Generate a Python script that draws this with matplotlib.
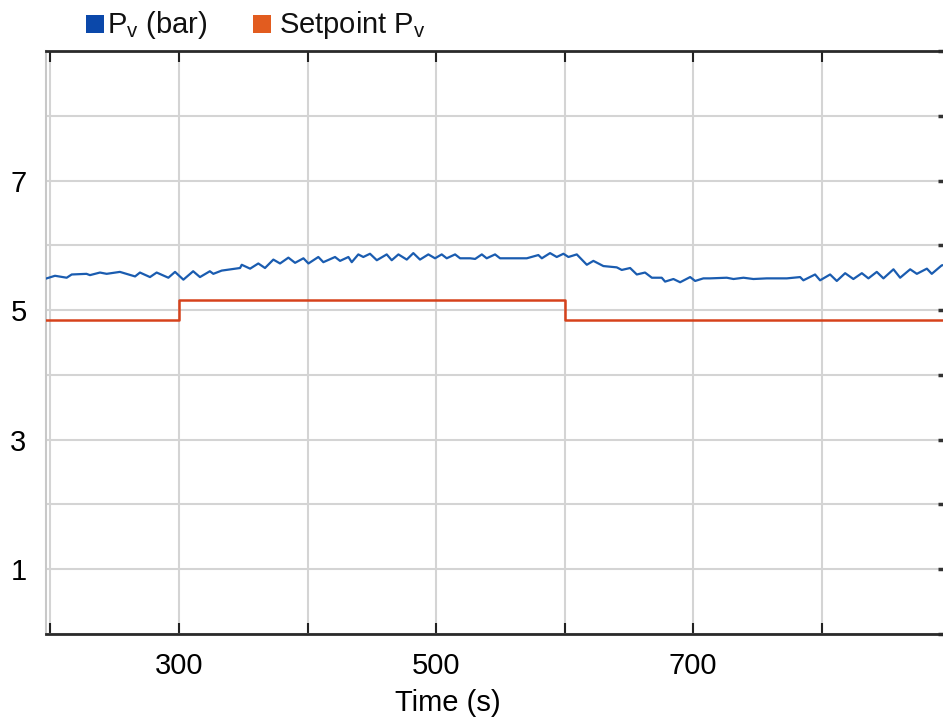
import matplotlib
matplotlib.use("Agg")
import matplotlib.pyplot as plt
from matplotlib.patches import Rectangle
from matplotlib.ticker import MultipleLocator, FuncFormatter

plt.rcParams['font.family'] = ['Liberation Sans', 'DejaVu Sans']
plt.rcParams['mathtext.fontset'] = 'custom'
plt.rcParams['mathtext.rm'] = 'Liberation Sans'

# Measured pressure Pv (bar) over time (s)
time_pv = [197.0, 203.5, 212.6, 216.5, 228.0, 230.7, 238.5, 243.7, 254.0, 265.8,
           269.6, 277.4, 282.6, 291.7, 296.9, 303.4, 311.0, 316.3, 324.0, 326.7,
           333.2, 347.5, 348.8, 355.3, 361.7, 366.9, 373.4, 378.6, 385.1, 390.3,
           396.8, 400.7, 408.4, 412.3, 421.4, 425.3, 431.8, 434.4, 439.5, 443.4,
           448.6, 453.9, 461.6, 465.5, 470.7, 477.2, 482.3, 487.5, 494.0, 499.2,
           504.4, 508.3, 514.8, 518.7, 526.5, 530.4, 535.6, 539.4, 545.9, 549.8,
           560.2, 570.6, 579.6, 582.3, 588.7, 593.9, 599.1, 603.0, 609.5, 617.3,
           622.4, 630.2, 640.6, 644.5, 651.0, 656.2, 662.6, 667.9, 675.6, 678.2,
           684.7, 689.9, 697.7, 701.6, 708.0, 713.2, 726.2, 731.4, 739.2, 746.9,
           757.3, 772.9, 783.3, 785.8, 794.9, 798.8, 806.6, 811.8, 818.3, 824.7,
           831.3, 836.4, 842.9, 848.1, 855.9, 861.1, 868.9, 874.1, 881.9, 885.7,
           893.4, 896.0]
pv = [5.49, 5.53, 5.50, 5.55, 5.56, 5.54, 5.58, 5.56, 5.59, 5.52,
      5.58, 5.51, 5.58, 5.50, 5.59, 5.47, 5.60, 5.51, 5.60, 5.56,
      5.61, 5.65, 5.70, 5.64, 5.72, 5.65, 5.78, 5.72, 5.81, 5.73,
      5.80, 5.72, 5.82, 5.74, 5.82, 5.76, 5.82, 5.74, 5.86, 5.82,
      5.87, 5.77, 5.86, 5.77, 5.86, 5.78, 5.88, 5.78, 5.86, 5.80,
      5.86, 5.80, 5.86, 5.80, 5.80, 5.79, 5.86, 5.80, 5.86, 5.80,
      5.80, 5.80, 5.85, 5.80, 5.88, 5.82, 5.87, 5.82, 5.86, 5.70,
      5.76, 5.68, 5.66, 5.62, 5.65, 5.55, 5.58, 5.50, 5.50, 5.44,
      5.48, 5.43, 5.51, 5.45, 5.49, 5.49, 5.50, 5.48, 5.50, 5.48,
      5.49, 5.49, 5.51, 5.46, 5.55, 5.46, 5.55, 5.45, 5.57, 5.48,
      5.57, 5.49, 5.59, 5.49, 5.63, 5.50, 5.63, 5.56, 5.64, 5.56,
      5.69, 5.70]

# Pressure setpoint (bar), piecewise constant
time_sp = [196.0, 300.0, 600.0, 900.0]
setpoint = [4.85, 5.15, 4.85, 4.85]

x_labels = [300, 500, 700]
y_labels = [1, 3, 5, 7]

W, H = 943, 719
fig = plt.figure(figsize=(W / 100, H / 100), dpi=100)
ax = fig.add_axes([46 / W, 1 - 634 / H, 899 / W, 583 / H])

ax.plot(time_pv, pv, color='#1a5cb0', lw=1.6, zorder=3)
ax.plot(time_sp, setpoint, color='#d6421c', lw=1.8, drawstyle='steps-post', zorder=3)

ax.set_xlim(196.5, 896)
ax.set_ylim(0, 9)

ax.xaxis.set_major_locator(MultipleLocator(100))
ax.yaxis.set_major_locator(MultipleLocator(1))
ax.xaxis.set_major_formatter(FuncFormatter(lambda v, p: f"{int(round(v))}" if int(round(v)) in x_labels else ""))
ax.yaxis.set_major_formatter(FuncFormatter(lambda v, p: f"{int(round(v))}" if int(round(v)) in y_labels else ""))

ax.grid(True, color='#d4d4d4', lw=1.5, zorder=0)

ax.tick_params(axis='x', which='major', direction='in', top=True, bottom=True,
               length=8, width=1.5, color='#222222', labelsize=21, pad=13)
ax.tick_params(axis='y', which='major', direction='in', left=False, right=True,
               length=5, width=2.5, color='#333333', labelsize=21, pad=14)

for side in ('top', 'bottom'):
    ax.spines[side].set_color('#2a2a2a')
    ax.spines[side].set_linewidth(2.0)
ax.spines['left'].set_color('#c8c8c8')
ax.spines['left'].set_linewidth(1.5)
ax.spines['right'].set_visible(False)

ax.set_xlabel('Time (s)', fontsize=21)
ax.xaxis.set_label_coords(402 / 899, -55 / 583)

# Legend row above the plot: coloured squares followed by series names
legend_items = [
    (86, '#0b48aa', r'P$_\mathrm{v}$ (bar)', 107),
    (253, '#e25c1f', r'Setpoint P$_\mathrm{v}$', 279),
]
for sq_x, colour, text, text_x in legend_items:
    fig.add_artist(Rectangle((sq_x / W, 1 - 33 / H), 18 / W, 18 / H,
                             transform=fig.transFigure, color=colour, lw=0))
    fig.text(text_x / W, 1 - 33 / H, text, fontsize=21, va='baseline', ha='left',
             color='#111111')

fig.savefig('out.png', dpi=100)
